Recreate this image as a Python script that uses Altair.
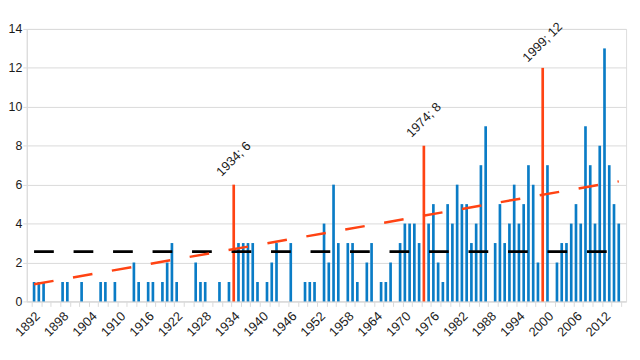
import math
import altair as alt
import pandas as pd

# Years 1892..2015, one value per year
years = list(range(1892, 2016))
values = [
    1, 1, 1, 0, 0, 0, 1, 1, 0, 0,      # 1892-1901
    1, 0, 0, 0, 1, 1, 0, 1, 0, 0,      # 1902-1911
    0, 2, 1, 0, 1, 1, 0, 1, 2, 3,      # 1912-1921
    1, 0, 0, 0, 2, 1, 1, 0, 0, 1,      # 1922-1931
    0, 1, 6, 3, 3, 3, 3, 1, 0, 1,      # 1932-1941
    2, 3, 0, 0, 3, 0, 0, 1, 1, 1,      # 1942-1951
    0, 4, 2, 6, 3, 0, 3, 3, 1, 0,      # 1952-1961
    2, 3, 0, 1, 1, 2, 0, 3, 4, 4,      # 1962-1971
    4, 3, 8, 4, 5, 2, 1, 5, 4, 6,      # 1972-1981
    5, 5, 3, 4, 7, 9, 0, 3, 5, 3,      # 1982-1991
    4, 6, 4, 5, 7, 6, 2, 12, 7, 0,     # 1992-2001
    2, 3, 3, 4, 5, 4, 9, 7, 4, 8,      # 2002-2011
    13, 7, 5, 4,                       # 2012-2015
]
highlight_years = [1934, 1974, 1999]
label_years = [1892, 1898, 1904, 1910, 1916, 1922, 1928, 1934, 1940, 1946,
               1952, 1958, 1964, 1970, 1976, 1982, 1988, 1994, 2000, 2006, 2012]
tick_bounds = [1891.5 + 2 * i for i in range(63)]
y_ticks = [0, 2, 4, 6, 8, 10, 12, 14]

BLUE = "#0a7cc6"
RED = "#ff4313"
GRID = "#d9d9d9"
FONT = "Liberation Sans"
TXT = "#1a1a1a"

df = pd.DataFrame({"year": years, "value": values})
df["hl"] = df["year"].isin(highlight_years)
df_lab = pd.DataFrame({"year": label_years})

xscale = alt.Scale(domain=[1891.5, 2015.5], nice=False, zero=False)
yscale = alt.Scale(domain=[0, 14], nice=False)

# axis carrying the small tick marks between categories
tick_axis = alt.Axis(
    orient="bottom", values=tick_bounds, labels=False, tickSize=5,
    tickColor=GRID, domainColor=GRID, grid=False, title=None,
)


def yaxis():
    return alt.Axis(
        values=y_ticks, labelFontSize=12.5, labelFont=FONT, labelColor=TXT,
        tickSize=4, tickColor=GRID, domainColor=GRID, gridColor=GRID,
        labelPadding=1, labelOverlap=False, title=None,
    )


base = alt.Chart(df)

bars = base.transform_filter("datum.value > 0").mark_bar(size=2.7).encode(
    x=alt.X("year:Q", scale=xscale, axis=tick_axis),
    y=alt.Y("value:Q", scale=yscale, axis=yaxis()),
    color=alt.condition("datum.hl", alt.value(RED), alt.value(BLUE)),
)

mean_rule = base.transform_aggregate(
    m="mean(value)", x0="min(year)", x1="max(year)"
).mark_rule(color="#000000", strokeWidth=2.8, strokeDash=[20, 20]).encode(
    x=alt.X("x0:Q", scale=xscale, axis=None),
    x2="x1:Q",
    y=alt.Y("m:Q", scale=yscale, axis=yaxis()),
)

trend = base.transform_filter("datum.value > 0").transform_calculate(
    lv="log(datum.value)"
).transform_regression("year", "lv").transform_calculate(
    fit="exp(datum.lv)"
).mark_line(color=RED, strokeWidth=2.5, strokeDash=[20, 20]).encode(
    x=alt.X("year:Q", scale=xscale, axis=None),
    y=alt.Y("fit:Q", scale=yscale, axis=yaxis()),
)

labels = base.transform_filter("datum.hl").transform_calculate(
    txt="format(datum.year, 'd') + '; ' + datum.value"
).mark_text(
    angle=315, align="center", baseline="middle", radius=26, theta=0,
    fontSize=13, font=FONT, color=TXT,
).encode(
    x=alt.X("year:Q", scale=xscale, axis=None),
    y=alt.Y("value:Q", scale=yscale, axis=yaxis()),
    text="txt:N",
)

# rotated year labels under the axis
year_labels = alt.Chart(df_lab).transform_calculate(
    txt="format(datum.year, 'd')"
).mark_text(
    angle=315, align="right", baseline="middle", radius=13.6, theta=2.844,
    fontSize=13, font=FONT, color=TXT,
).encode(
    x=alt.X("year:Q", scale=xscale, axis=None),
    y=alt.Y(datum=0, scale=yscale, axis=yaxis()),
    text="txt:N",
)

chart = alt.layer(bars, mean_rule, trend, labels, year_labels).resolve_axis(
    x="independent"
).properties(
    width=607, height=276,
    autosize=alt.AutoSizeParams(type="none"),
    padding={"left": 19, "top": 19, "right": 6, "bottom": 49},
).configure_view(strokeWidth=0).configure(background="white")

chart.save("out.html", embed_options={"renderer": "svg", "actions": False})
